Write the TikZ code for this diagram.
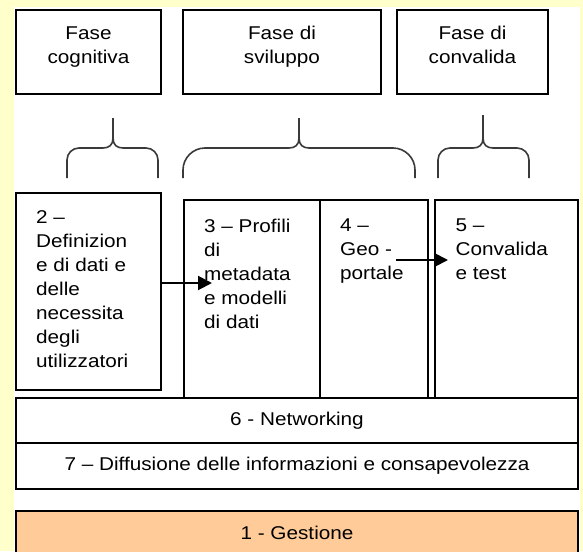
\documentclass[tikz,border=0pt]{standalone}
\usepackage{fontspec}
\setmainfont{Liberation Sans}[FakeStretch=1.12]
\usetikzlibrary{arrows.meta}
\definecolor{bgyellow}{HTML}{FFFFCC}
\definecolor{orangebox}{HTML}{FFCC99}
\definecolor{bracegray}{HTML}{3A3A3A}
\newcommand{\mybrace}[5]{%
  \draw[bracestyle] (#1,178) -- (#1,{148+#5}) .. controls (#1,{148+0.45*#5}) and ({#1+0.45*#5},148) .. ({#1+#5},148)
    -- ({#2-10},148) .. controls ({#2-4},148) and (#2,145) .. (#2,138) -- (#2,#4);
  \draw[bracestyle] (#2,138) .. controls (#2,145) and ({#2+4},148) .. ({#2+10},148)
    -- ({#3-#5},148) .. controls ({#3-0.45*#5},148) and (#3,{148+0.45*#5}) .. (#3,{148+#5}) -- (#3,178);
}
\begin{document}
\begin{tikzpicture}[x=1pt,y=-1pt,
  box/.style={draw, line width=2pt, inner sep=0pt, anchor=north west, fill=white},
  txt/.style={inner sep=0pt, font=\fontsize{18.5}{24}\selectfont},
  bracestyle/.style={draw=bracegray, line width=1.6pt},
  arr/.style={line width=2pt, -{Triangle[length=14pt,width=14pt]}}]
\useasboundingbox (0,0) rectangle (583,551);
\fill[bgyellow] (0,0) rectangle (583,551);
\fill[white] (14,7) rectangle (580,551);

% phase boxes
\node[box, minimum width=145pt, minimum height=84pt] (fc) at (15,9) {};
\node[box, minimum width=198pt, minimum height=84pt] (fs) at (182,9) {};
\node[box, minimum width=151pt, minimum height=84pt] (fv) at (396,9) {};
\node[txt, anchor=base] (fct) at (fc.center |- 0,39.5) {\parbox[t]{140pt}{\centering Fase\\cognitiva}};
\node[txt, anchor=base] (fst) at (fs.center |- 0,39.5) {\parbox[t]{190pt}{\centering Fase di\\sviluppo}};
\node[txt, anchor=base] (fvt) at (fv.center |- 0,39.5) {\parbox[t]{145pt}{\centering Fase di\\convalida}};

% braces
\mybrace{67}{113}{158}{118}{12}
\mybrace{183}{299}{415}{118}{22}
\mybrace{438}{483}{529}{115}{12}

% work package boxes
\node[box, minimum width=145pt, minimum height=197pt] (b2) at (15,192) {};
\node[box, minimum width=136pt, minimum height=198pt] (b3) at (183,199) {};
\node[box, minimum width=108pt, minimum height=198pt] (b4) at (319,199) {};
\node[box, minimum width=143pt, minimum height=198pt] (b5) at (434,199) {};

\node[txt, anchor=base west] (b2t) at (36,223) {\parbox[t]{120pt}{\raggedright 2 –\\Definizion\\e di dati e\\delle\\necessita\\degli\\utilizzatori}};
\node[txt, anchor=base west] (b3t) at (204,232) {\parbox[t]{115pt}{\raggedright 3 – Profili\\di\\metadata\\e modelli\\di dati}};
\node[txt, anchor=base west] (b4t) at (340,231) {\parbox[t]{85pt}{\raggedright 4 –\\Geo -\\portale}};
\node[txt, anchor=base west] (b5t) at (455.5,231) {\parbox[t]{120pt}{\raggedright 5 –\\Convalida\\e test}};

% horizontal bands
\node[box, txt, minimum width=562pt, minimum height=45pt] (net) at (15,397) {6 - Networking};
\node[box, txt, minimum width=562pt, minimum height=46pt] (dif) at (15,442) {7 – Diffusione delle informazioni e consapevolezza};
\begin{scope}
\clip (0,0) rectangle (583,551);
\node[box, fill=orangebox, minimum width=562pt, minimum height=48pt] (ges) at (15,510) {};
\end{scope}
\node[txt] (gest) at (ges.center |- 0,533) {1 - Gestione};

% arrows
\coordinate (a1e) at (212,283);
\coordinate (a2s) at (396,260);
\coordinate (a2e) at (448,260);
\draw[arr] (b2.east |- a1e) -- (a1e);
\draw[arr] (a2s) -- (a2e);
\end{tikzpicture}
\end{document}
